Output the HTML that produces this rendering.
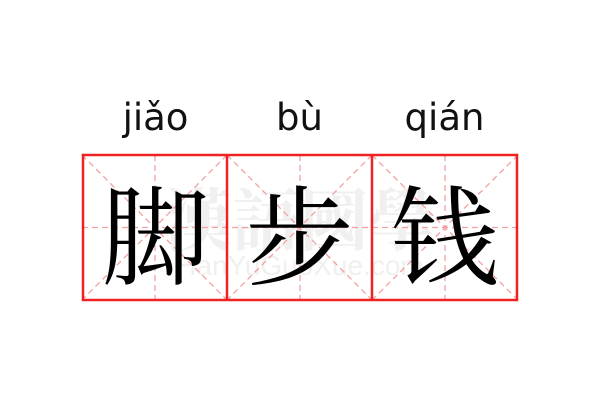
<!DOCTYPE html>
<html><head><meta charset="utf-8"><style>
html,body{margin:0;padding:0;background:#fff;width:600px;height:400px;overflow:hidden}
.py{position:absolute;top:96px;width:145px;text-align:center;font:37px "DejaVu Sans","Liberation Sans",sans-serif;color:#111}
.ch{position:absolute;top:157px;width:145px;height:145px;line-height:145px;text-align:center;font-size:108px;font-family:"Noto Serif CJK SC","Noto Sans CJK SC",serif;color:#000}
</style></head><body>
<svg width="600" height="400" style="position:absolute;left:0;top:0">
<text x="300" y="245" text-anchor="middle" font-family="Noto Serif CJK SC,serif" font-size="68" fill="#f0f0f0" font-weight="bold">漢語國學</text>
<text x="300" y="275" text-anchor="middle" font-family="Liberation Sans,sans-serif" font-size="28" fill="#f0f0f0">HanYuGuoXue.com</text>
<g stroke="#f4a0a0" stroke-width="1.3" stroke-dasharray="6,4" fill="none">
<line x1="82" y1="227.5" x2="518" y2="227.5"/>
<line x1="155" y1="155" x2="155" y2="300"/>
<line x1="300" y1="155" x2="300" y2="300"/>
<line x1="445" y1="155" x2="445" y2="300"/>
<line x1="82" y1="155" x2="227" y2="300"/><line x1="227" y1="155" x2="82" y2="300"/>
<line x1="227" y1="155" x2="372" y2="300"/><line x1="372" y1="155" x2="227" y2="300"/>
<line x1="372" y1="155" x2="518" y2="300"/><line x1="518" y1="155" x2="372" y2="300"/>
</g>
<g stroke="#ee2222" stroke-width="2.5" fill="none">
<rect x="83" y="155" width="434" height="145"/>
<line x1="227" y1="155" x2="227" y2="300"/>
<line x1="372" y1="155" x2="372" y2="300"/>
</g>
</svg>
<div class="py" style="left:83px">jiǎo</div>
<div class="py" style="left:227px">bù</div>
<div class="py" style="left:372px">qián</div>
<div class="ch" style="left:83px">脚</div>
<div class="ch" style="left:227px">步</div>
<div class="ch" style="left:372px">钱</div>
</body></html>
